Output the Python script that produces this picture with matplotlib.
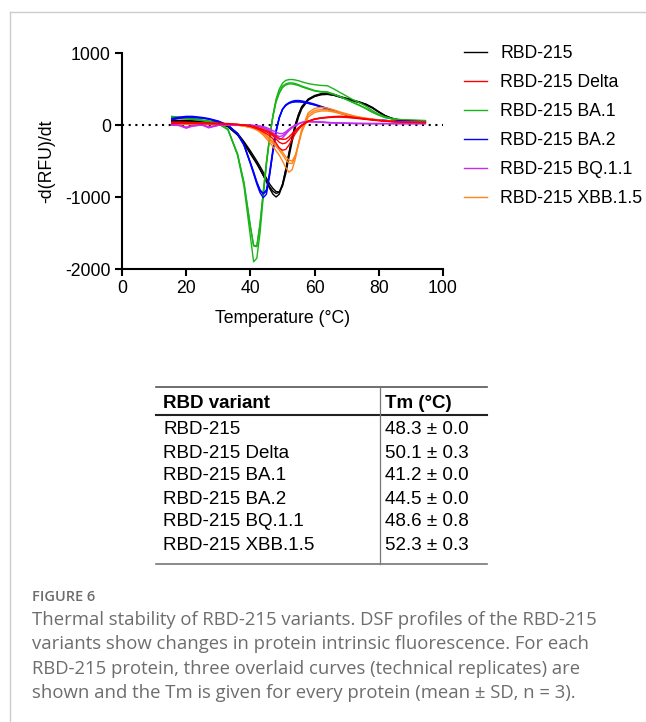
import numpy as np
import matplotlib
matplotlib.use("Agg")
import matplotlib.pyplot as plt
from matplotlib.lines import Line2D

plt.rcParams['font.family'] = ['Liberation Sans', 'DejaVu Sans']
plt.rcParams['axes.unicode_minus'] = False

# temperature grid (deg C) shared by all curves
temp = [15.5, 18, 20, 22, 25, 27, 30, 33, 36, 38, 40, 41, 42, 43, 44, 45, 46, 47, 48, 49,
        50, 51, 52, 53, 54, 55, 56, 58, 60, 62, 64, 66, 68, 70, 72, 74, 76, 78, 80, 82,
        84, 86, 88, 90, 92, 94.5]

# -d(RFU)/dt, three technical replicates per protein
wt_1 = [60, 65, 65, 60, 55, 50, 35, -20, -130, -250, -390, -460, -530, -610, -700, -790, -880, -960, -1000, -960,
        -830, -630, -400, -180, 0, 140, 250, 360, 410, 435, 440, 425, 395, 370, 345, 320, 290, 245, 185, 130,
        95, 75, 62, 56, 52, 50]
wt_2 = [50, 55, 58, 55, 50, 45, 30, -25, -140, -260, -400, -470, -540, -620, -700, -780, -860, -920, -950, -935,
        -820, -620, -390, -170, 10, 150, 255, 355, 400, 425, 430, 415, 390, 365, 340, 315, 285, 240, 180, 128,
        93, 72, 60, 55, 50, 48]
wt_3 = [40, 45, 50, 50, 45, 40, 30, -15, -115, -230, -360, -430, -500, -575, -655, -740, -820, -880, -925, -930,
        -850, -680, -450, -230, -40, 110, 225, 345, 395, 420, 425, 412, 385, 360, 335, 310, 280, 235, 178, 125,
        90, 70, 58, 52, 48, 46]

delta_1 = [40, 40, 38, 35, 30, 28, 25, 20, 10, 0, -20, -35, -50, -70, -95, -120, -150, -190, -250, -320,
           -350, -340, -280, -200, -120, -60, -10, 50, 80, 95, 105, 112, 115, 110, 102, 92, 82, 72, 62, 55,
           48, 44, 40, 38, 36, 35]
delta_2 = [30, 32, 30, 28, 25, 22, 20, 15, 8, 0, -15, -25, -40, -55, -75, -95, -120, -150, -195, -240,
           -260, -250, -210, -150, -90, -40, 0, 55, 85, 100, 110, 118, 122, 118, 108, 96, 85, 75, 65, 57,
           50, 45, 41, 39, 37, 35]
delta_3 = [20, 22, 22, 20, 18, 16, 15, 12, 5, -2, -12, -20, -32, -45, -60, -80, -100, -125, -155, -185,
           -200, -195, -165, -120, -75, -35, 0, 50, 80, 95, 103, 108, 110, 105, 97, 88, 78, 68, 60, 53,
           47, 42, 38, 36, 34, 33]

ba1_1 = [120, 110, 100, 90, 70, 55, 25, -60, -420, -850, -1550, -1900, -1850, -1500, -1000, -550, -180, 130, 360, 500,
         580, 620, 630, 632, 625, 615, 600, 575, 560, 550, 545, 500, 450, 400, 350, 310, 260, 200, 150, 115,
         90, 78, 72, 68, 65, 62]
ba1_2 = [110, 100, 90, 80, 65, 50, 20, -60, -400, -800, -1400, -1680, -1690, -1380, -940, -520, -170, 120, 340, 460,
         540, 570, 585, 585, 575, 560, 540, 510, 480, 465, 460, 430, 395, 355, 315, 275, 230, 180, 140, 105,
         88, 76, 70, 66, 63, 60]
ba1_3 = [100, 95, 85, 75, 60, 45, 15, -65, -410, -810, -1420, -1670, -1680, -1370, -930, -510, -160, 110, 320, 440,
         520, 555, 570, 570, 560, 548, 530, 500, 472, 458, 452, 425, 390, 350, 310, 270, 226, 176, 136, 102,
         85, 74, 68, 64, 61, 58]

ba2_1 = [90, 110, 120, 120, 105, 90, 55, 0, -120, -280, -540, -680, -820, -940, -1010, -960, -700, -380, -100, 100,
         220, 280, 310, 330, 340, 340, 335, 315, 290, 260, 230, 200, 170, 140, 115, 100, 88, 78, 70, 63,
         58, 55, 52, 50, 48, 46]
ba2_2 = [80, 100, 110, 110, 98, 85, 50, -5, -125, -280, -530, -660, -800, -910, -960, -920, -680, -370, -90, 100,
         215, 270, 300, 315, 322, 322, 318, 300, 278, 250, 222, 195, 165, 137, 113, 98, 86, 76, 68, 62,
         57, 54, 51, 49, 47, 45]
ba2_3 = [70, 95, 105, 105, 95, 80, 45, -5, -120, -270, -520, -650, -790, -900, -950, -900, -650, -340, -70, 110,
         220, 275, 305, 318, 325, 325, 320, 302, 280, 252, 224, 196, 166, 138, 114, 98, 86, 76, 68, 62,
         57, 54, 51, 49, 47, 45]

bq_1 = [5, -10, -45, -15, 0, -40, -5, 0, 0, 0, -5, -10, -15, -25, -40, -60, -90, -130, -175, -200,
        -180, -130, -80, -40, -10, 15, 35, 50, 48, 42, 36, 32, 28, 25, 23, 22, 21, 20, 20, 20,
        20, 20, 20, 20, 20, 20]
bq_2 = [0, -5, -35, -10, 0, -30, -3, 0, 0, 0, -3, -8, -12, -20, -32, -50, -75, -105, -140, -160,
        -150, -110, -65, -30, -5, 18, 35, 48, 45, 40, 34, 30, 26, 24, 22, 21, 20, 20, 20, 20,
        20, 20, 20, 20, 20, 20]
bq_3 = [0, -5, -30, -8, 0, -25, -2, 0, 0, 0, -2, -5, -8, -14, -22, -35, -55, -78, -100, -118,
        -120, -95, -58, -25, 0, 20, 35, 45, 42, 37, 32, 28, 25, 23, 21, 20, 19, 19, 19, 19,
        19, 19, 19, 19, 19, 19]

xbb_1 = [25, 20, 15, 15, 15, 15, 12, 8, 0, -15, -35, -50, -70, -100, -140, -190, -240, -300, -360, -420,
         -500, -590, -655, -620, -470, -260, -60, 170, 230, 245, 235, 210, 180, 155, 130, 110, 95, 82, 70, 60,
         52, 46, 42, 40, 38, 36]
xbb_2 = [15, 12, 10, 10, 10, 10, 8, 5, -2, -15, -30, -45, -62, -88, -120, -160, -205, -255, -300, -350,
         -410, -480, -530, -535, -430, -250, -70, 140, 200, 215, 210, 190, 165, 143, 122, 104, 90, 78, 67, 58,
         50, 45, 41, 39, 37, 35]
xbb_3 = [10, 8, 8, 8, 8, 8, 6, 3, -3, -15, -28, -40, -55, -78, -108, -145, -185, -230, -275, -320,
         -375, -440, -490, -500, -420, -270, -100, 110, 175, 195, 195, 180, 158, 138, 118, 101, 88, 76, 65, 57,
         50, 45, 41, 39, 37, 35]

labels = ['RBD-215', 'RBD-215 Delta', 'RBD-215 BA.1', 'RBD-215 BA.2', 'RBD-215 BQ.1.1', 'RBD-215 XBB.1.5']
colors = ['#000000', '#FF0000', '#19B419', '#0000FF', '#C52CF2', '#FF8419']
curves = [[wt_1, wt_2, wt_3], [delta_1, delta_2, delta_3], [ba1_1, ba1_2, ba1_3],
          [ba2_1, ba2_2, ba2_3], [bq_1, bq_2, bq_3], [xbb_1, xbb_2, xbb_3]]
zorders = [2, 7, 3, 4, 6, 5]

# table values
tm_mean = ['48.3', '50.1', '41.2', '44.5', '48.6', '52.3']
tm_sd = ['0.0', '0.3', '0.0', '0.0', '0.8', '0.3']

W, H = 646, 722
fig = plt.figure(figsize=(W / 100, H / 100), dpi=100)

def fx(px):
    return px / W

def fy(py):
    return 1 - py / H

fs = 12.7

ax = fig.add_axes([fx(122), fy(269), fx(443) - fx(122), fy(53) - fy(269)])
ax.axhline(0, color='k', lw=1.5, ls=(0, (1, 2.2)), zorder=1)
for reps, c, z in zip(curves, colors, zorders):
    for r in reps:
        ax.plot(temp, r, color=c, lw=1.0, zorder=z)

ax.set_xlim(0, 100)
ax.set_ylim(-2000, 1000)
ax.set_xticks([0, 20, 40, 60, 80, 100])
ax.set_yticks([-2000, -1000, 0, 1000])
for s in ['top', 'right']:
    ax.spines[s].set_visible(False)
for s in ['left', 'bottom']:
    ax.spines[s].set_linewidth(1.5)
ax.tick_params(direction='out', length=5, width=1.5, labelsize=fs, pad=3)
ax.set_xlabel('Temperature (°C)', fontsize=fs, labelpad=9)
ax.set_ylabel('-d(RFU)/dt', fontsize=fs, labelpad=7)

handles = [Line2D([], [], color=c, lw=1.0) for c in colors]
fig.legend(handles, labels, loc='upper left', bbox_to_anchor=(fx(457), fy(38)),
           frameon=False, fontsize=fs, handlelength=1.3, handletextpad=0.75,
           labelspacing=0.68, borderaxespad=0)

# table below the plot
tfs = 13.5
tl, tr, tdiv = 156, 487, 380
fig.add_artist(Line2D([fx(tl), fx(tr)], [fy(387), fy(387)], color='#555555', lw=1.2))
fig.add_artist(Line2D([fx(tl), fx(tr)], [fy(415), fy(415)], color='#222222', lw=1.5))
fig.add_artist(Line2D([fx(tl), fx(tr)], [fy(564), fy(564)], color='#777777', lw=1.2))
fig.add_artist(Line2D([fx(tdiv), fx(tdiv)], [fy(387), fy(564)], color='#777777', lw=0.9))
fig.text(fx(163), fy(403), 'RBD variant', fontsize=tfs, fontweight='bold', va='center')
fig.text(fx(385), fy(403), 'Tm (°C)', fontsize=tfs, fontweight='bold', va='center')
row_y = [430, 453, 476, 499, 522, 545]
for lab, m, sd, y in zip(labels, tm_mean, tm_sd, row_y):
    fig.text(fx(163), fy(y), lab, fontsize=tfs, va='center')
    fig.text(fx(385), fy(y), m + ' ± ' + sd, fontsize=tfs, va='center')

# frame lines of the figure panel
fig.add_artist(Line2D([fx(10), fx(646)], [fy(12), fy(12)], color='#cccccc', lw=1.0))
fig.add_artist(Line2D([fx(10), fx(10)], [fy(12), fy(722)], color='#cccccc', lw=1.0))

# caption
cap_font = ['Open Sans', 'DejaVu Sans']
fig.text(fx(32), fy(597), 'FIGURE 6', fontsize=10.5, color='#6d6d6d', family=cap_font,
         fontweight='semibold', va='center')
caption = ['Thermal stability of RBD-215 variants. DSF profiles of the RBD-215',
           'variants show changes in protein intrinsic fluorescence. For each',
           'RBD-215 protein, three overlaid curves (technical replicates) are',
           'shown and the Tm is given for every protein (mean ± SD, n = 3).']
for i, line in enumerate(caption):
    fig.text(fx(32), fy(620 + 24.3 * i), line, fontsize=13.3, color='#6d6d6d',
             family=cap_font, va='center')

fig.savefig('out.png', dpi=100)
